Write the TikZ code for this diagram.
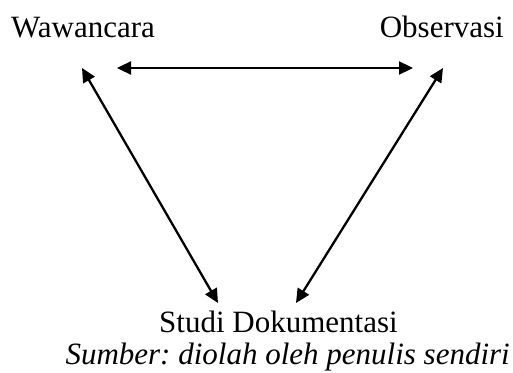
\documentclass[tikz,border=0pt]{standalone}
\usepackage{fontspec}
\setmainfont{Liberation Serif}
\usepackage{tikz}
\usetikzlibrary{arrows.meta}
\tikzset{every node/.append style={execute at begin node={\fontsize{31}{37}\selectfont\frenchspacing}}}

\begin{document}
\begin{tikzpicture}[x=1pt,y=-1pt,lab/.style={inner sep=0pt},
  link/.style={line width=2.3pt,{Triangle[length=14pt,width=13pt]}-{Triangle[length=14pt,width=13pt]}}]
\useasboundingbox (0,0) rectangle (513,372);
\node[lab,anchor=base west] (waw) at (11,37) {Wawancara};
\node[lab,anchor=base east] (obs) at (504,37) {Observasi};
\node[lab,anchor=base west] (stud) at (159,332) {Studi Dokumentasi};
\node[lab,anchor=base east] (src) at (510,364) {\itshape Sumber: diolah oleh penulis sendiri};
\coordinate (wawR) at (117,68);
\coordinate (obsL) at (413,68);
\coordinate (wawB) at (82,68);
\coordinate (obsB) at (443,68);
\coordinate (studL) at (218,303);
\coordinate (studR) at (296,303);
\draw[link] (wawR) -- (obsL);
\draw[link] (wawB) -- (studL);
\draw[link] (obsB) -- (studR);
\end{tikzpicture}
\end{document}
